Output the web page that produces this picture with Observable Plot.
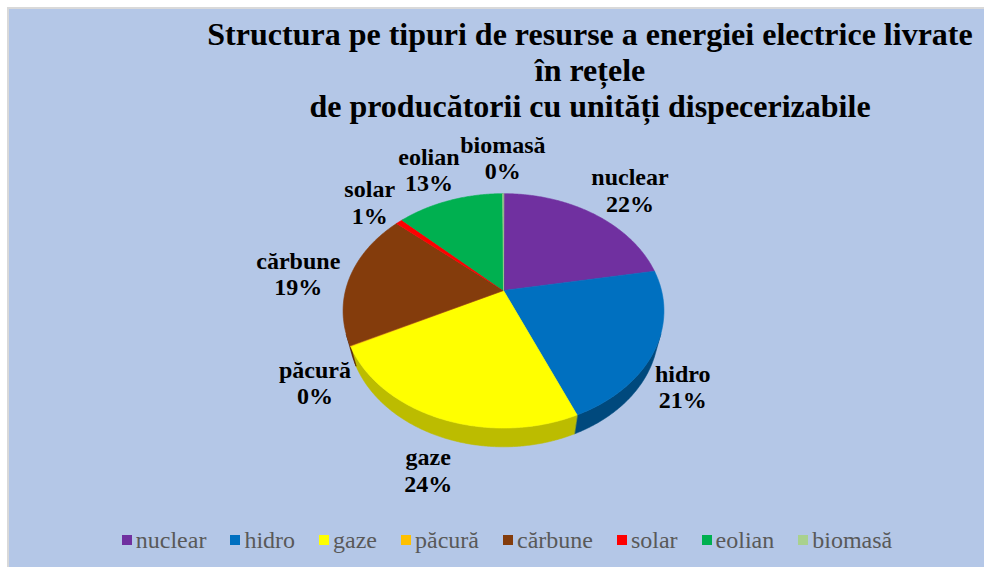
<!DOCTYPE html>
<html>
<head>
<meta charset="utf-8">
<script src="https://cdn.jsdelivr.net/npm/d3@7"></script>
<script src="https://cdn.jsdelivr.net/npm/@observablehq/plot@0.6"></script>
<style>
  html, body { margin: 0; padding: 0; background: #ffffff; width: 984px; height: 567px; overflow: hidden; }
  #frame { position: absolute; left: 7px; top: 7px; width: 977px; height: 560px; box-sizing: border-box;
           background: #b4c7e7; border-left: 2px solid #d9d9d9; border-top: 2px solid #d9d9d9; }
  #title { position: absolute; left: 196px; width: 788px; top: 16px; text-align: center;
           font-family: "Liberation Serif", "Times New Roman", serif; font-weight: bold; font-size: 32px;
           line-height: 36px; color: #000; }
  #chart { position: absolute; left: 0; top: 0; }
  #legend { position: absolute; left: 0; width: 1014px; top: 526px; display: flex; justify-content: center;
            font-family: "Liberation Serif", "Times New Roman", serif; font-size: 24px; color: #595959; line-height: 28px; }
  .item { display: flex; align-items: center; margin: 0 12px; }
  .sw { width: 10px; height: 10px; margin-right: 4px; }
</style>
</head>
<body>
<div id="frame"></div>
<div id="chart"></div>
<div id="title">Structura pe tipuri de resurse a energiei electrice livrate<br>în rețele<br>de producătorii cu unități dispecerizabile</div>
<div id="legend"></div>
<script>
// ---- data ----
const categories = ["nuclear", "hidro", "gaze", "păcură", "cărbune", "solar", "eolian", "biomasă"];
const shares = [22.2, 21.4, 23.9, 0.1, 18.8, 0.8, 12.7, 0.1];
const percentLabels = ["22%", "21%", "24%", "0%", "19%", "1%", "13%", "0%"];
const colors = ["#7030a0", "#0070c0", "#ffff00", "#ffc000", "#843c0c", "#ff0000", "#00b050", "#a9d18e"];

// ---- 3D view ----
const W = 984, H = 567;
const view = { cx: 503, cy: 290, f: 632, D: 4.0, elev: 46 * Math.PI / 180, thick: 0.19 };
const sa = Math.sin(view.elev), ca = Math.cos(view.elev);
// theta measured clockwise from the back of the pie (seen from above); returns normalized screen coords (v up)
function project(r, theta, yUp) {
  const X = r * Math.sin(theta), Z = r * Math.cos(theta);
  const Y = yUp * ca + Z * sa;
  const depth = Z * ca - yUp * sa;
  const k = 1 / (view.D + depth);
  return [X * k, Y * k];
}
const visC = -1 / (view.D * ca);               // wall visible where cos(theta) < visC
const visLo = Math.acos(visC), visHi = 2 * Math.PI - Math.acos(visC);

const data = categories.map((c, i) => ({ category: c, share: shares[i], label: percentLabels[i], color: colors[i] }));
const arcs = d3.pie().sort(null).value(d => d.share).startAngle(0).endAngle(2 * Math.PI)(data);

const topRows = [], wallRows = [], labelRows = [];
const step = Math.PI / 360;
const ctx = document.createElement("canvas").getContext("2d");
ctx.font = "bold 24px 'Liberation Serif'";

arcs.forEach((a, i) => {
  const col = a.data.color;
  // top face
  const n = Math.max(2, Math.ceil((a.endAngle - a.startAngle) / step));
  const [u0, v0] = project(0, 0, 0);
  topRows.push({ id: i, u: u0, v: v0, fill: col });
  for (let j = 0; j <= n; j++) {
    const t = a.startAngle + (a.endAngle - a.startAngle) * j / n;
    const [u, v] = project(1, t, 0);
    topRows.push({ id: i, u, v, fill: col });
  }
  // visible wall
  const lo = Math.max(a.startAngle, visLo), hi = Math.min(a.endAngle, visHi);
  if (hi > lo) {
    const wc = d3.color(col).darker(a.data.category === "gaze" ? 0.85 : 1.2).formatHex();
    const m = Math.max(2, Math.ceil((hi - lo) / step));
    for (let j = 0; j <= m; j++) {
      const t = lo + (hi - lo) * j / m; const [u, v] = project(1, t, 0);
      wallRows.push({ id: i, u, v, fill: wc });
    }
    for (let j = m; j >= 0; j--) {
      const t = lo + (hi - lo) * j / m; const [u, v] = project(1, t, -view.thick);
      wallRows.push({ id: i, u, v, fill: wc });
    }
  }
  // label: placed just outside the rim along the slice's mid angle
  const mid = (a.startAngle + a.endAngle) / 2;
  const front = Math.cos(mid) < 0;
  const [pu, pv] = project(1, mid, front ? -view.thick : 0);
  const dx = pu * view.f, dy = -pv * view.f, len = Math.hypot(dx, dy);
  const ux = dx / len, uy = dy / len;
  const w = Math.max(ctx.measureText(a.data.category).width, ctx.measureText(a.data.label).width);
  const hh = 52, gap = 10;
  const px = dx + ux * (gap + w / 2), py = dy + uy * (gap + hh / 2);
  labelRows.push({ u: px / view.f, v: -py / view.f, text: a.data.category + "\n" + a.data.label });
});

const chart = Plot.plot({
  width: W, height: H, margin: 0,
  style: { background: "transparent", overflow: "visible" },
  x: { domain: [-view.cx / view.f, (W - view.cx) / view.f], range: [0, W], axis: null },
  y: { domain: [view.cy / view.f, (view.cy - H) / view.f], range: [0, H], axis: null },
  color: { type: "identity" },
  marks: [
    Plot.line(wallRows, { x: "u", y: "v", z: "id", fill: "fill", stroke: "fill", strokeWidth: 0.6, curve: "linear-closed" }),
    Plot.line(topRows, { x: "u", y: "v", z: "id", fill: "fill", stroke: "fill", strokeWidth: 0.6, curve: "linear-closed" }),
    Plot.text(labelRows, { x: "u", y: "v", text: "text", fontSize: 24, fontWeight: "bold",
      fontFamily: "Liberation Serif", lineHeight: 1.1, fill: "#000", textAnchor: "middle" })
  ]
});
document.getElementById("chart").appendChild(chart);

// legend
const legend = document.getElementById("legend");
categories.forEach((c, i) => {
  const it = document.createElement("div"); it.className = "item";
  const sw = document.createElement("span"); sw.className = "sw"; sw.style.background = colors[i];
  const tx = document.createElement("span"); tx.textContent = c;
  it.appendChild(sw); it.appendChild(tx); legend.appendChild(it);
});
</script>
</body>
</html>
